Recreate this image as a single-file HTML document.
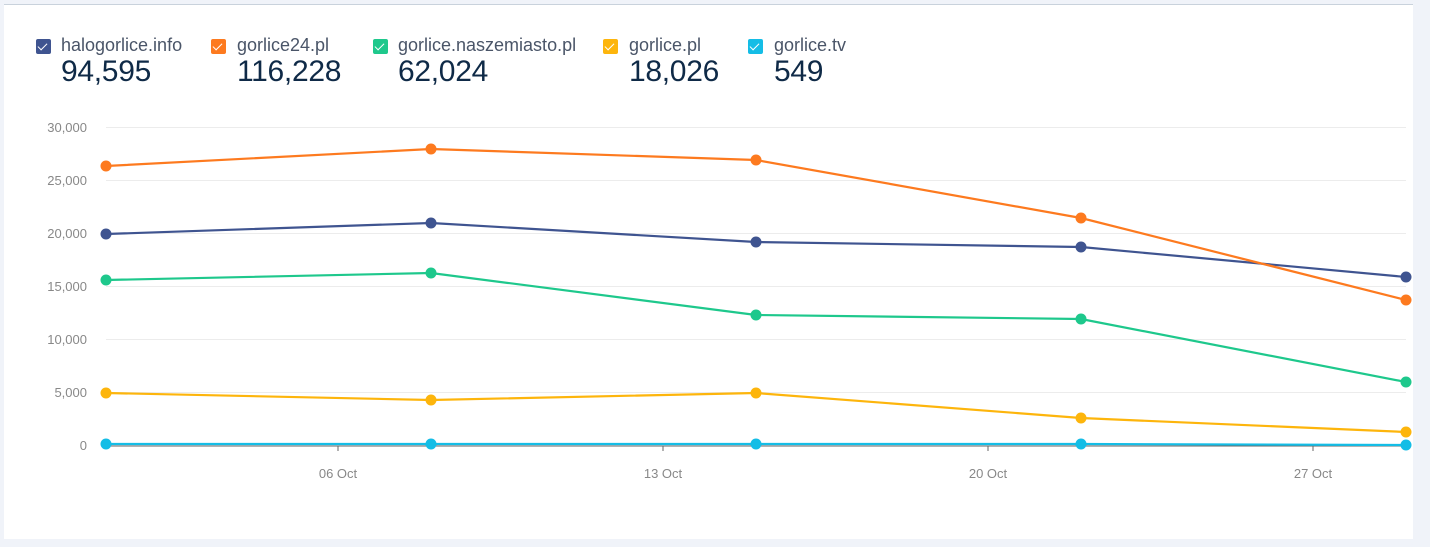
<!DOCTYPE html>
<html><head><meta charset="utf-8"><style>
html,body{margin:0;padding:0;width:1430px;height:547px;background:#f0f3f9;overflow:hidden;font-family:"Liberation Sans",sans-serif;}
.card{position:absolute;left:4px;top:4px;width:1409px;height:534px;background:#fff;border-top:1px solid #c9d2dc;}
.cb{position:absolute;top:39px;width:15px;height:15px;border-radius:2px;}
.cb:after{content:"";position:absolute;left:4px;top:2px;width:4px;height:8px;border:solid #fff;border-width:0 1.6px 1.6px 0;transform:rotate(45deg);}
.lb{position:absolute;top:35px;font-size:18px;color:#4a5568;}
.nm{position:absolute;top:55px;font-size:30px;color:#0f2a47;letter-spacing:-0.3px;}
</style></head><body>
<div class="card"></div>
<div class="cb" style="left:36px;background:#3f5490"></div><div class="lb" style="left:61px">halogorlice.info</div><div class="nm" style="left:61px">94,595</div>
<div class="cb" style="left:211px;background:#fd7a1f"></div><div class="lb" style="left:237px">gorlice24.pl</div><div class="nm" style="left:237px">116,228</div>
<div class="cb" style="left:373px;background:#1ec88c"></div><div class="lb" style="left:398px">gorlice.naszemiasto.pl</div><div class="nm" style="left:398px">62,024</div>
<div class="cb" style="left:603px;background:#fdb50c"></div><div class="lb" style="left:629px">gorlice.pl</div><div class="nm" style="left:629px">18,026</div>
<div class="cb" style="left:748px;background:#14bde6"></div><div class="lb" style="left:774px">gorlice.tv</div><div class="nm" style="left:774px">549</div>
<svg width="1430" height="547" style="position:absolute;left:0;top:0" font-family="Liberation Sans, sans-serif">
<g stroke="#ececec" stroke-width="1">
<line x1="106" x2="1406" y1="127.5" y2="127.5"/><line x1="106" x2="1406" y1="180.5" y2="180.5"/><line x1="106" x2="1406" y1="233.5" y2="233.5"/><line x1="106" x2="1406" y1="286.5" y2="286.5"/><line x1="106" x2="1406" y1="339.5" y2="339.5"/><line x1="106" x2="1406" y1="392.5" y2="392.5"/>
</g>
<line x1="106" x2="1406" y1="446" y2="446" stroke="#666" stroke-width="1"/>
<g stroke="#666"><line x1="338" x2="338" y1="446" y2="451"/><line x1="663" x2="663" y1="446" y2="451"/><line x1="988" x2="988" y1="446" y2="451"/><line x1="1313" x2="1313" y1="446" y2="451"/></g>
<g font-size="13" fill="#888" text-anchor="end">
<text x="87" y="132">30,000</text><text x="87" y="185">25,000</text><text x="87" y="238">20,000</text><text x="87" y="291">15,000</text><text x="87" y="344">10,000</text><text x="87" y="397">5,000</text><text x="87" y="450">0</text>
</g>
<g font-size="13" fill="#888" text-anchor="middle">
<text x="338" y="478">06 Oct</text><text x="663" y="478">13 Oct</text><text x="988" y="478">20 Oct</text><text x="1313" y="478">27 Oct</text>
</g>
<g fill="none" stroke-width="2.2">
<polyline stroke="#fdb50c" points="106,393 431,400 756,393 1081,418 1406,432"/>
<polyline stroke="#1ec88c" points="106,280 431,273 756,315 1081,319 1406,382"/>
<polyline stroke="#3f5490" points="106,234 431,223 756,242 1081,247 1406,277"/>
<polyline stroke="#fd7a1f" points="106,166 431,149 756,160 1081,218 1406,300"/>
<polyline stroke="#14bde6" points="106,444 431,444 756,444 1081,444 1406,445"/>
</g>
<g fill="#fdb50c"><circle cx="106" cy="393" r="5.5"/><circle cx="431" cy="400" r="5.5"/><circle cx="756" cy="393" r="5.5"/><circle cx="1081" cy="418" r="5.5"/><circle cx="1406" cy="432" r="5.5"/></g>
<g fill="#1ec88c"><circle cx="106" cy="280" r="5.5"/><circle cx="431" cy="273" r="5.5"/><circle cx="756" cy="315" r="5.5"/><circle cx="1081" cy="319" r="5.5"/><circle cx="1406" cy="382" r="5.5"/></g>
<g fill="#3f5490"><circle cx="106" cy="234" r="5.5"/><circle cx="431" cy="223" r="5.5"/><circle cx="756" cy="242" r="5.5"/><circle cx="1081" cy="247" r="5.5"/><circle cx="1406" cy="277" r="5.5"/></g>
<g fill="#fd7a1f"><circle cx="106" cy="166" r="5.5"/><circle cx="431" cy="149" r="5.5"/><circle cx="756" cy="160" r="5.5"/><circle cx="1081" cy="218" r="5.5"/><circle cx="1406" cy="300" r="5.5"/></g>
<g fill="#14bde6"><circle cx="106" cy="444" r="5.5"/><circle cx="431" cy="444" r="5.5"/><circle cx="756" cy="444" r="5.5"/><circle cx="1081" cy="444" r="5.5"/><circle cx="1406" cy="445" r="5.5"/></g>
</svg>
</body></html>
